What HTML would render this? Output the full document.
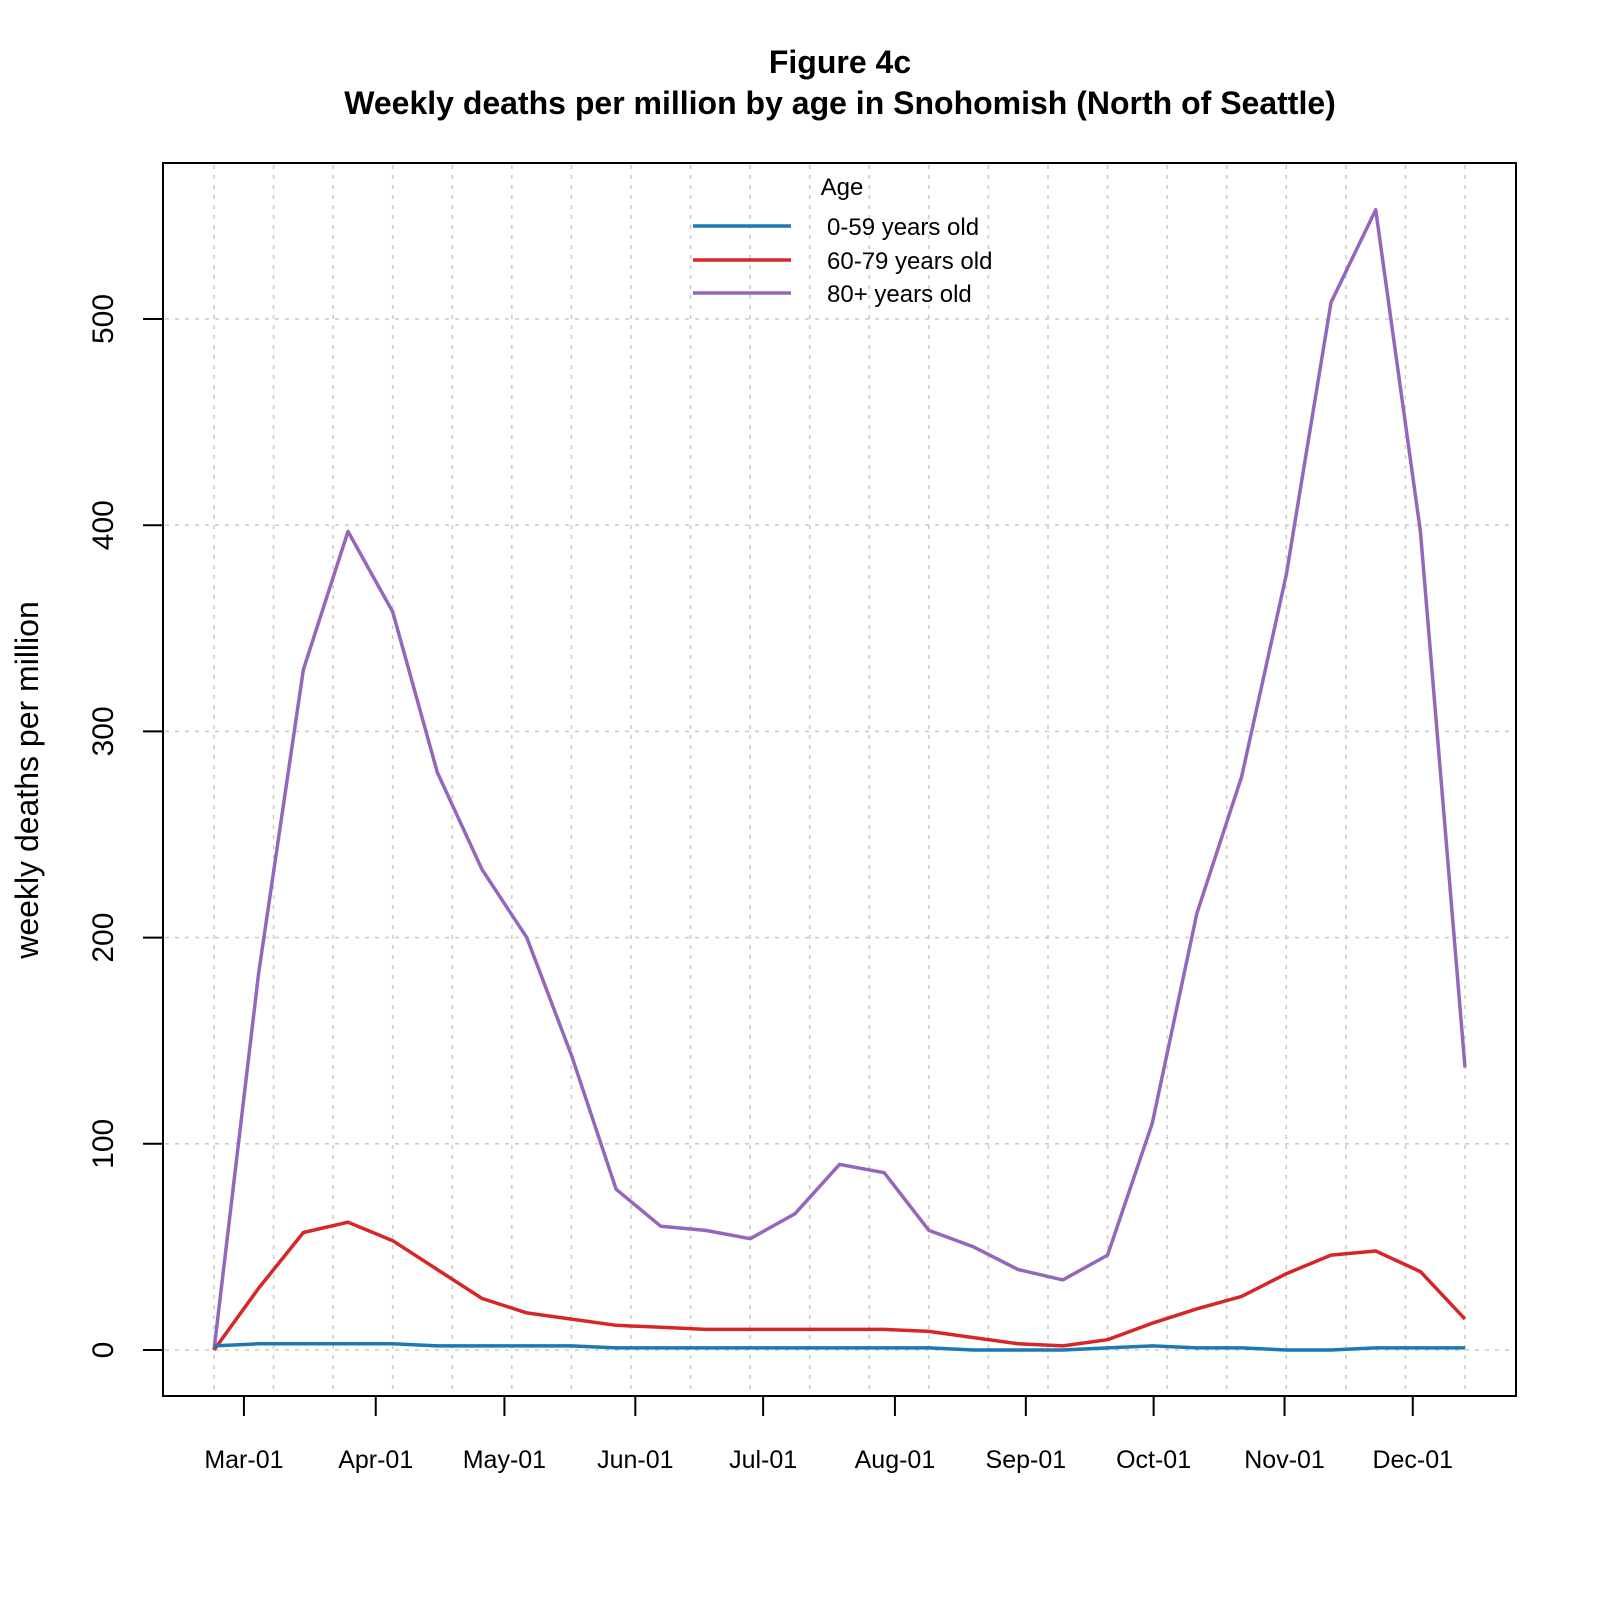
<!DOCTYPE html>
<html><head><meta charset="utf-8"><style>
html,body{margin:0;padding:0;background:#fff}
svg{display:block;font-family:"Liberation Sans",Arial,sans-serif}
</style></head><body>
<svg id="chart" width="1600" height="1600" viewBox="0 0 1600 1600">
<rect width="1600" height="1600" fill="#fff"/>
<text x="840" y="73" text-anchor="middle" font-size="32" font-weight="bold">Figure 4c</text>
<text x="840" y="114" text-anchor="middle" font-size="32" font-weight="bold">Weekly deaths per million by age in Snohomish (North of Seattle)</text>
<g id="grid"></g>
<g id="series"></g>
<rect x="163" y="163" width="1353" height="1233" fill="none" stroke="#000" stroke-width="2"/>
<g id="axes"></g>
<text transform="translate(38,780) rotate(-90)" text-anchor="middle" font-size="32">weekly deaths per million</text>
<g>
<text x="842" y="195" text-anchor="middle" font-size="24">Age</text>
<g><line x1="693" y1="226" x2="791" y2="226" stroke="#1f77b4" stroke-width="3.5"/><text x="827" y="235" font-size="24">0-59 years old</text></g>
<g><line x1="693" y1="260" x2="791" y2="260" stroke="#d62728" stroke-width="3.5"/><text x="827" y="269" font-size="24">60-79 years old</text></g>
<g><line x1="693" y1="293" x2="791" y2="293" stroke="#9467bd" stroke-width="3.5"/><text x="827" y="302" font-size="24">80+ years old</text></g>
</g>
</svg>
<script>
const age0_59 = [2,3,3,3,3,2,2,2,2,1,1,1,1,1,1,1,1,0,0,0,1,2,1,1,0,0,1,1,1];
const age60_79 = [0,30,57,62,53,39,25,18,15,12,11,10,10,10,10,10,9,6,3,2,5,13,20,26,37,46,48,38,15];
const age80plus = [0,183,330,397,358,280,233,200,143,78,60,58,54,66,90,86,58,50,39,34,46,110,212,278,376,508,553,397,137];
const yTicks = [0,100,200,300,400,500];
const monthLabels = ["Mar-01","Apr-01","May-01","Jun-01","Jul-01","Aug-01","Sep-01","Oct-01","Nov-01","Dec-01"];
const monthIndex = [0.67,3.62,6.50,9.43,12.29,15.24,18.17,21.03,23.96,26.83];
const gridCount = 22;

const NS="http://www.w3.org/2000/svg";
const x0=214, dx=44.68, yZero=1350, pxPerUnit=2.062;
function xs(i){return x0+i*dx;}
function ys(v){return yZero-v*pxPerUnit;}
function mk(tag,attrs,parent){const e=document.createElementNS(NS,tag);for(const k in attrs)e.setAttribute(k,attrs[k]);parent.appendChild(e);return e;}
const grid=document.getElementById('grid'), axes=document.getElementById('axes'), series=document.getElementById('series');
const gdx=(1465-214)/(gridCount-1);
for(let g=0;g<gridCount;g++){
  const x=214+g*gdx;
  const l=mk('line',{x1:x,y1:165,x2:x,y2:1394,stroke:'#cccccc','stroke-width':1.6,'stroke-dasharray':'4,6'},grid);
  
  
}
yTicks.forEach(v=>{
  const y=ys(v);
  const l=mk('line',{x1:165,y1:y,x2:1514,y2:y,stroke:'#cccccc','stroke-width':1.6,'stroke-dasharray':'4,6'},grid);
  
  
  const t=mk('line',{x1:143,y1:y,x2:163,y2:y,stroke:'#000','stroke-width':2},axes);
  
  
  const tx=mk('text',{transform:`translate(113,${y}) rotate(-90)`,'text-anchor':'middle','font-size':30},axes);
  tx.textContent=v;
  
  
});
monthLabels.forEach((m,i)=>{
  const x=xs(monthIndex[i]);
  const t=mk('line',{x1:x,y1:1396,x2:x,y2:1416,stroke:'#000','stroke-width':2},axes);
  
  
  const tx=mk('text',{x:x,y:1468,'text-anchor':'middle','font-size':25},axes);
  tx.textContent=m;
  
  
});
function drawLine(vals,color,name){
  const pts=vals.map((v,i)=>xs(i).toFixed(1)+','+ys(v).toFixed(1)).join(' ');
  const p=mk('polyline',{points:pts,fill:'none',stroke:color,'stroke-width':3.5,'stroke-linejoin':'round'},series);
  
  
}
drawLine(age80plus,'#9467bd','line-80plus');
drawLine(age60_79,'#d62728','line-60-79');
drawLine(age0_59,'#1f77b4','line-0-59');
</script>
</body></html>
